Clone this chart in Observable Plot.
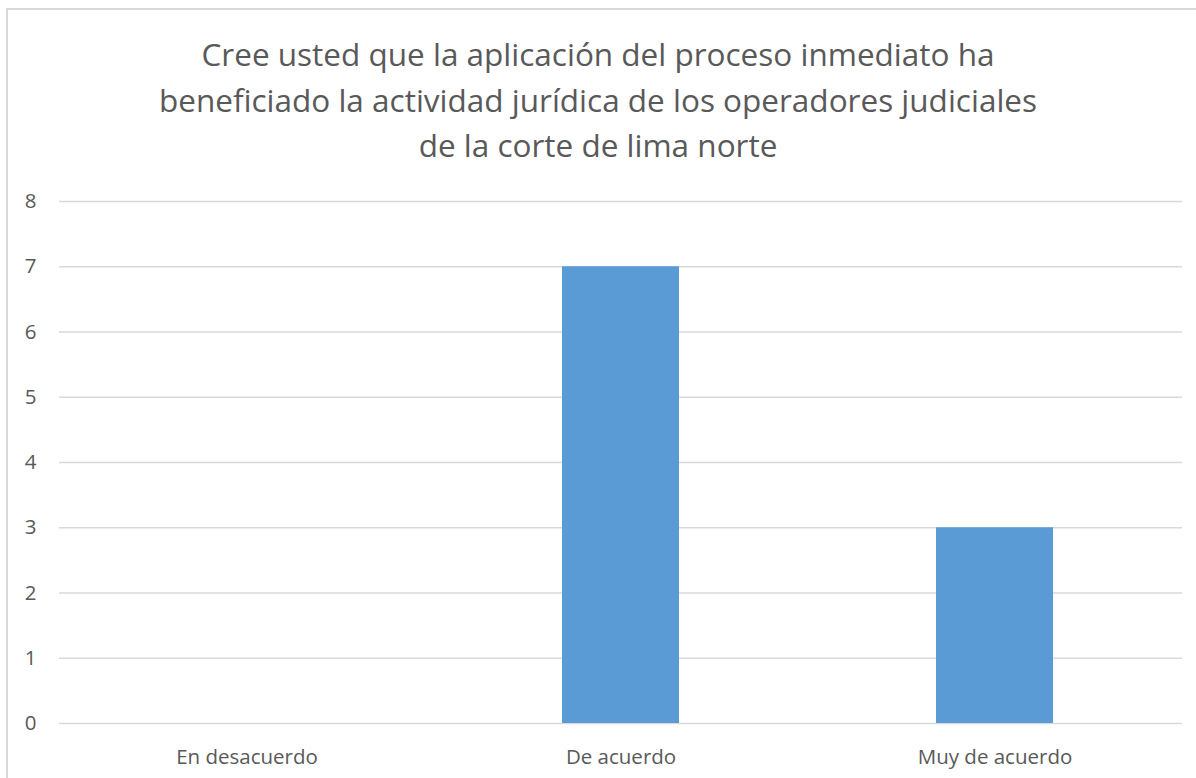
<!DOCTYPE html>
<html>
<head>
<meta charset="utf-8">
<script src="https://cdn.jsdelivr.net/npm/d3@7"></script>
<script src="https://cdn.jsdelivr.net/npm/@observablehq/plot@0.6"></script>
<style>
  html, body { margin: 0; padding: 0; background: #fff; }
  #fig { position: relative; width: 1196px; height: 778px; overflow: hidden; background: #fff; }
  #frame { position: absolute; left: 6px; top: 8px; width: 1300px; height: 900px;
           border-left: 2px solid #d9d9d9; border-top: 2px solid #d9d9d9; }
  #title { position: absolute; left: 0; top: 31px; width: 1196px; text-align: center;
           font-family: "Open Sans", sans-serif; font-size: 31.5px; line-height: 45.5px; color: #595959; }
  #chart { position: absolute; left: 0; top: 180px; }
</style>
</head>
<body>
<div id="fig">
  <div id="frame"></div>
  <div id="title"></div>
  <div id="chart"></div>
</div>
<script>
const titleLines = [
  "Cree usted que la aplicación del proceso inmediato ha",
  "beneficiado la actividad jurídica de los operadores judiciales",
  "de la corte de lima norte"
];
const categories = ["En desacuerdo", "De acuerdo", "Muy de acuerdo"];
const values = [0, 7, 3];
const yTicks = [0, 1, 2, 3, 4, 5, 6, 7, 8];

const titleEl = document.getElementById("title");
titleLines.forEach(t => { const d = document.createElement("div"); d.textContent = t; titleEl.appendChild(d); });

const data = categories.map((c, i) => ({category: c, value: values[i]}));

const chart = Plot.plot({
  width: 1196,
  height: 598,
  marginTop: 21,
  marginBottom: 55,
  marginLeft: 59,
  marginRight: 14,
  style: {fontFamily: "Open Sans, sans-serif", fontSize: "20.5px", color: "#595959", background: "transparent"},
  x: {domain: categories, paddingInner: 0.687, paddingOuter: 0.3435, label: null},
  y: {domain: [0, 8], label: null},
  marks: [
    Plot.ruleY(yTicks, {stroke: "#d9d9d9", strokeWidth: 1.5}),
    Plot.barY(data, {x: "category", y: "value", fill: "#5b9bd5"}),
    Plot.axisY({ticks: yTicks, tickSize: 0, tickPadding: 23, label: null, fontSize: 20.5}),
    Plot.axisX({tickSize: 0, tickPadding: 26, label: null, fontSize: 20.5})
  ]
});
document.getElementById("chart").appendChild(chart);
</script>
</body>
</html>
